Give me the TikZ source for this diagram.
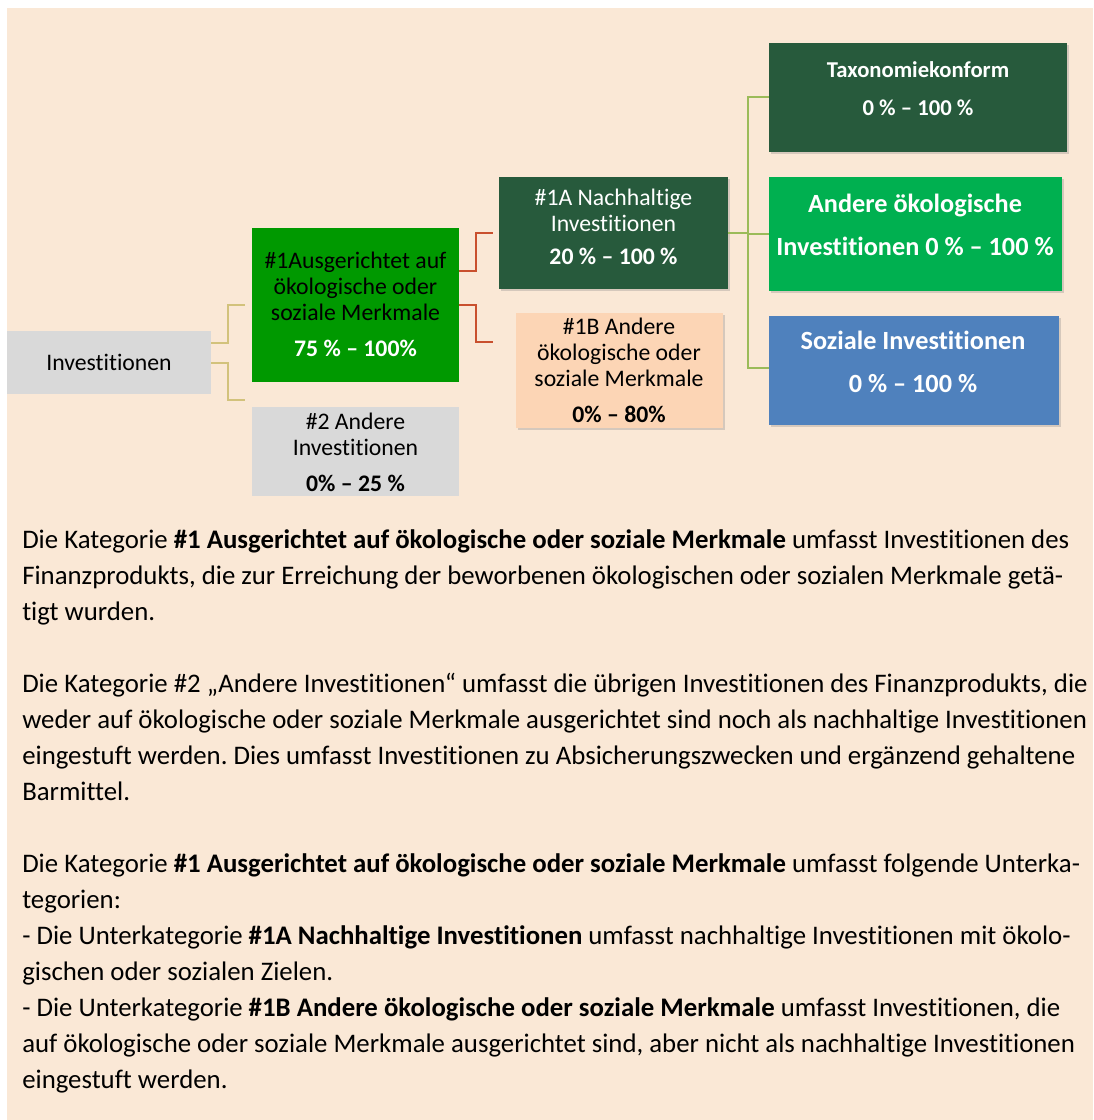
\documentclass[tikz,border=0pt]{standalone}
\usepackage{fontspec}
\setmainfont{Carlito}[Ligatures=NoCommon]
\usetikzlibrary{calc,shadows}
\newdimen\pxu \pxu=0.75pt
\frenchspacing

\begin{document}
\begin{tikzpicture}[x=0.75pt,y=-0.75pt]
  \definecolor{paper}{HTML}{FAE8D6}
  \definecolor{greyfill}{HTML}{D9D9D9}
  \definecolor{leaf}{HTML}{009900}
  \definecolor{forest}{HTML}{275A3C}
  \definecolor{mint}{HTML}{00B050}
  \definecolor{sky}{HTML}{4F81BD}
  \definecolor{peach}{HTML}{FCD5B5}
  \definecolor{khaki}{HTML}{D2C27C}
  \definecolor{rust}{HTML}{C9502E}
  \definecolor{olive}{HTML}{9BBB59}
  \path[use as bounding box] (0,0) rectangle (1093,1120);
  \fill[white] (0,0) rectangle (1093,1120);
  \fill[paper] (7,8) rectangle (1093,1120);

  \tikzset{box/.style={rectangle,inner sep=0pt},
           lifted/.style={box,drop shadow={opacity=.3,shadow xshift=1.5pt,shadow yshift=-1.5pt}},
           boxtext/.style={align=center,inner sep=0pt,font=\fontsize{17.8}{19.5}\selectfont},
           bigtext/.style={align=center,inner sep=0pt,text=white,font=\bfseries\fontsize{19.7}{32.25}\selectfont},
           bodytext/.style={align=left,inner sep=0pt,anchor=north west,font=\fontsize{20.1}{27}\selectfont},
           link/.style={line width=1.5pt}}

  % boxes of the allocation tree
  \node[box,fill=greyfill,minimum width=204\pxu,minimum height=63\pxu] (inv) at (109,362.5) {};
  \node[box,fill=leaf,minimum width=207\pxu,minimum height=153.5\pxu] (one) at (355.5,304.75) {};
  \node[box,fill=greyfill,minimum width=207\pxu,minimum height=89\pxu] (two) at (355.5,451.5) {};
  \node[lifted,fill=forest,minimum width=229\pxu,minimum height=112\pxu] (oneA) at (613.5,233) {};
  \node[lifted,fill=peach,minimum width=206.5\pxu,minimum height=115.5\pxu] (oneB) at (619.25,370.25) {};
  \node[lifted,fill=forest,minimum width=298\pxu,minimum height=109\pxu] (tax) at (918,97.5) {};
  \node[lifted,fill=mint,minimum width=293\pxu,minimum height=114\pxu] (oeko) at (915.5,234) {};
  \node[lifted,fill=sky,minimum width=290\pxu,minimum height=109\pxu] (sozial) at (914,370.5) {};

  \node[boxtext] (invT) at (109,362.5) {Investitionen};
  \node[boxtext] (oneT) at (355.5,304.5) {\#1Ausgerichtet auf\\ökologische oder\\soziale Merkmale\\[7.5pt]{\color{white}\bfseries 75 \% – 100\%}};
  \node[boxtext] (twoT) at (355.5,452.5) {\#2 Andere\\Investitionen\\[7.5pt]\textbf{0\% – 25 \%}};
  \node[boxtext,text=white] (oneAT) at (613.5,226.5) {\#1A Nachhaltige\\Investitionen\\[5.25pt]\textbf{20 \% – 100 \%}};
  \node[boxtext] (oneBT) at (619,370) {\#1B Andere\\ökologische oder\\soziale Merkmale\\[7.5pt]\textbf{0\% – 80\%}};
  \node[bigtext,font=\bfseries\fontsize{17}{28.5}\selectfont] (taxT) at (918,89) {Taxonomiekonform\\0 \% – 100 \%};
  \node[bigtext] (oekoT) at (915,224.5) {Andere ökologische\\Investitionen 0 \% – 100 \%};
  \node[bigtext] (sozialT) at (913,361.5) {Soziale Investitionen\\0 \% – 100 \%};

  % elbow connectors, each ending just short of its box
  \draw[link,khaki] ($(inv.east)+(0,-20)$) -- ++(17,0) |- ($(one.west)+(-7,0)$);
  \draw[link,khaki] (inv.east) -- ++(17,0) |- ($(two.north west)+(-7,-7)$);
  \draw[link,rust] ($(one.east)+(0,-34)$) -- ++(17,0) |- ($(oneA.west)+(-6,0)$);
  \draw[link,rust] (one.east) -- ++(17,0) |- ($(oneB.north west)+(-23,30)$);
  \draw[link,olive] (oneA.east) -- ++(20,0) coordinate (fork);
  \draw[link,olive] (fork) |- (tax.west);
  \draw[link,olive] (fork) |- (oeko.west);
  \draw[link,olive] (fork) |- ($(sozial.west)+(0,-2.5)$);

  % explanation below the tree
  \node[bodytext] (para1) at (22,523.3) {\strut Die Kategorie \textbf{\#1 Ausgerichtet auf ökologische oder soziale Merkmale} umfasst Investitionen des\\
    Finanzprodukts, die zur Erreichung der beworbenen ökologischen oder sozialen Merkmale getä-\\
    tigt wurden.};
  \node[bodytext] (para2) at (22,667.3) {\strut Die Kategorie \#2 „Andere Investitionen“ umfasst die übrigen Investitionen des Finanzprodukts, die\\
    weder auf ökologische oder soziale Merkmale ausgerichtet sind noch als nachhaltige Investitionen\\
    eingestuft werden. Dies umfasst Investitionen zu Absicherungszwecken und ergänzend gehaltene\\
    Barmittel.};
  \node[bodytext] (para3) at (22,847.3) {\strut Die Kategorie \textbf{\#1 Ausgerichtet auf ökologische oder soziale Merkmale} umfasst folgende Unterka-\\
    tegorien:\\
    - Die Unterkategorie \textbf{\#1A Nachhaltige Investitionen} umfasst nachhaltige Investitionen mit ökolo-\\
    gischen oder sozialen Zielen.\\
    - Die Unterkategorie \textbf{\#1B Andere ökologische oder soziale Merkmale} umfasst Investitionen, die\\
    auf ökologische oder soziale Merkmale ausgerichtet sind, aber nicht als nachhaltige Investitionen\\
    eingestuft werden.};
\end{tikzpicture}
\end{document}
